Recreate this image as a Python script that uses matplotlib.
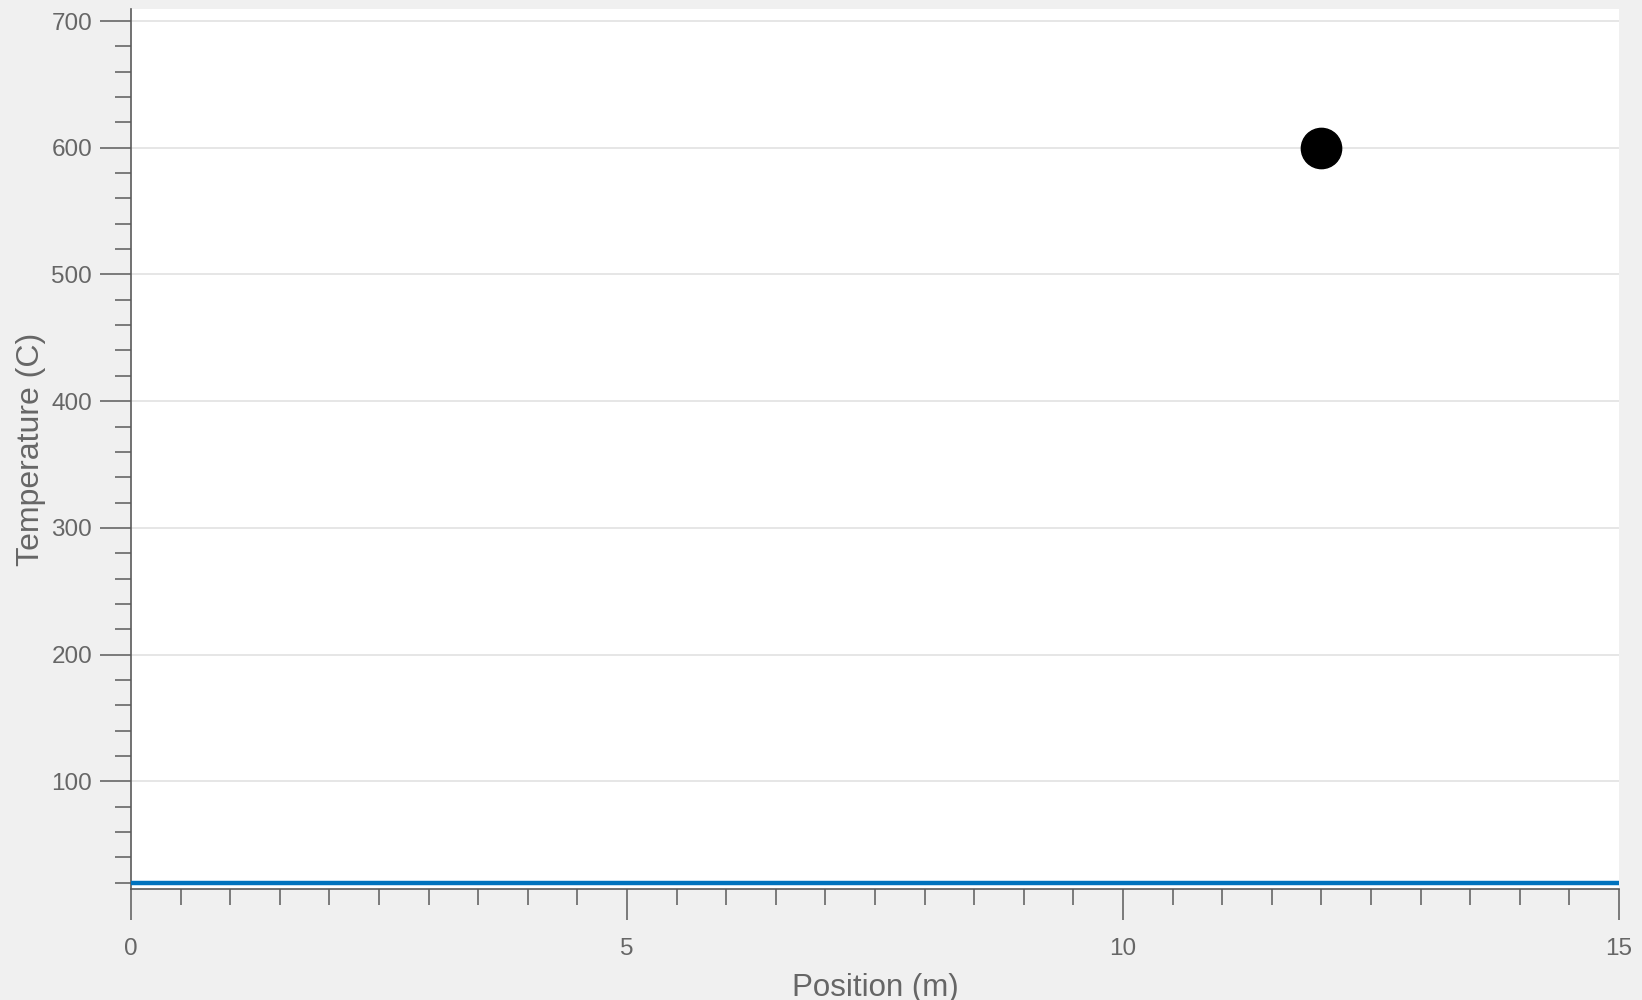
import matplotlib
matplotlib.use("Agg")
import matplotlib.pyplot as plt
from matplotlib.ticker import MultipleLocator

# ------------------------------------------------------------------
# Data read off the frame
# ------------------------------------------------------------------
position = [0, 1, 2, 3, 4, 5, 6, 7, 8, 9, 10, 11, 12, 13, 14, 15]  # m
temperature = [20, 20, 20, 20, 20, 20, 20, 20, 20, 20, 20, 20, 20, 20, 20, 20]  # C
probe_x = [12]
probe_t = [600]

x_ticks = [0, 5, 10, 15]
y_ticks = [100, 200, 300, 400, 500, 600, 700]

# ------------------------------------------------------------------
# Styling (MATLAB-ish)
# ------------------------------------------------------------------
FIG_BG = "#f0f0f0"
AX_COLOR = "#5a5a5a"
TXT_COLOR = "#666666"
LINE_BLUE = "#0072bd"

plt.rcParams["font.family"] = ["Liberation Sans", "DejaVu Sans"]

fig = plt.figure(figsize=(16.42, 10.0), dpi=100, facecolor=FIG_BG)
ax = fig.add_axes([0.0798, 0.111, 0.9062, 0.880])
ax.set_facecolor("white")

ax.plot(position, temperature, color=LINE_BLUE, linewidth=3.2, solid_capstyle="butt", zorder=3)
ax.plot(probe_x, probe_t, "o", color="black", markersize=29, zorder=4)

ax.set_xlim(0, 15)
ax.set_ylim(15, 709.5)

ax.set_xticks(x_ticks)
ax.set_yticks(y_ticks)
ax.xaxis.set_minor_locator(MultipleLocator(0.5))
ax.yaxis.set_minor_locator(MultipleLocator(20))

ax.tick_params(which="major", direction="out", length=22, width=1.1,
               color=AX_COLOR, labelcolor=TXT_COLOR, labelsize=17.5)
ax.tick_params(which="minor", direction="out", length=11.5, width=1.1, color=AX_COLOR)
ax.tick_params(axis="x", which="major", pad=13)
ax.tick_params(axis="y", which="major", pad=6)

for side in ("top", "right"):
    ax.spines[side].set_visible(False)
for side in ("left", "bottom"):
    ax.spines[side].set_color(AX_COLOR)
    ax.spines[side].set_linewidth(1.2)

ax.yaxis.grid(True, color="#e4e4e4", linewidth=1.3)
ax.set_axisbelow(True)

ax.set_xlabel("Position (m)", fontsize=22.5, color=TXT_COLOR)
ax.set_ylabel("Temperature (C)", fontsize=23, color=TXT_COLOR)
ax.xaxis.set_label_coords(0.5, -0.095)
ax.yaxis.set_label_coords(-0.057, 0.5)

fig.savefig("out.png", dpi=100, facecolor=FIG_BG)
